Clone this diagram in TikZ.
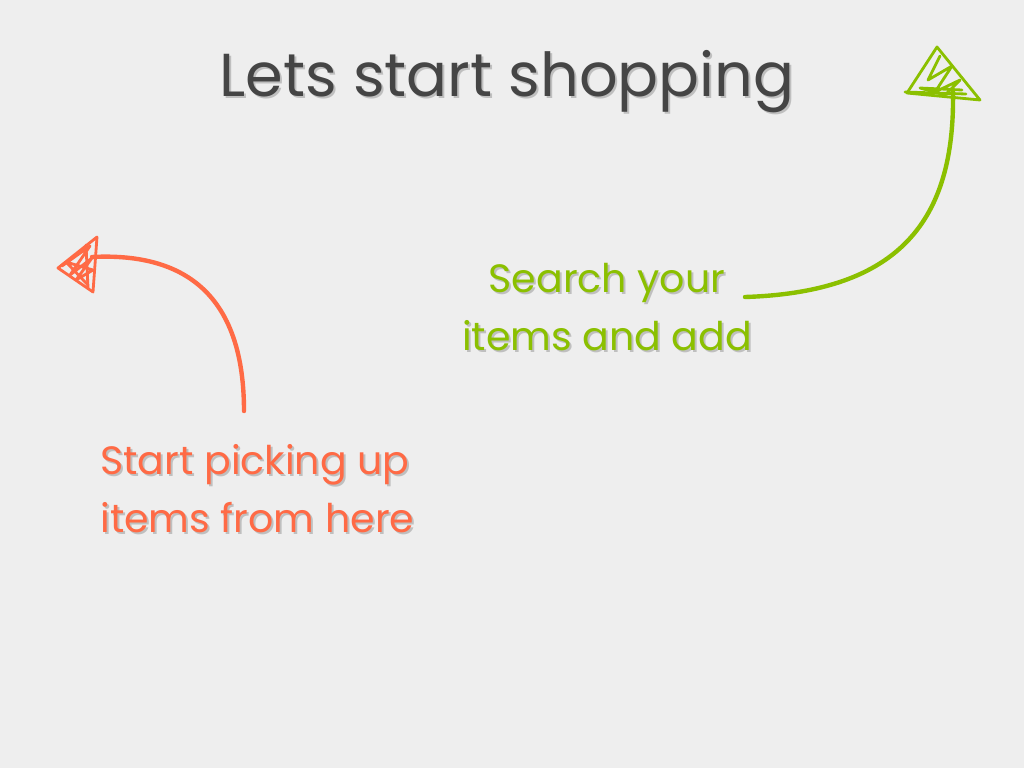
\documentclass[tikz,border=0pt]{standalone}
\usepackage{fontspec}
\setmainfont{Poppins}
\definecolor{bg}{HTML}{EEEEEE}
\definecolor{orng}{HTML}{FF6A45}
\definecolor{grn}{HTML}{8BC000}
\definecolor{ttl}{HTML}{454545}
\definecolor{shd}{HTML}{9A9A9A}
\begin{document}
\begin{tikzpicture}[x=0.02cm,y=-0.02cm,
  titletext/.style={font=\fontsize{34.5}{40}\selectfont, text=ttl, inner sep=0pt},
  labeltext/.style={font=\fontsize{22.5}{33}\selectfont, inner sep=0pt, align=left},
  shadowtext/.style={text=shd, opacity=0.55},
  curveline/.style={line width=2.5pt, line cap=round},
  headline/.style={line width=1.6pt, line cap=round, line join=round}]
\fill[bg] (0,0) rectangle (1024,768);
\useasboundingbox (0,0) rectangle (1024,768);
% title
\node[titletext, shadowtext] (titleshadow) at (509,84) {Lets start shopping};
\node[titletext] (title) at (507,82) {Lets start shopping};
% orange label
\node[labeltext, shadowtext, anchor=west] (oshadow) at (102,491) {Start picking up\\items from here};
\node[labeltext, text=orng, anchor=west] (olabel) at (100,489) {Start picking up\\items from here};
% green label
\node[labeltext, shadowtext, align=center] (gshadow) at (609,309) {Search your\\items and add};
\node[labeltext, text=grn, align=center] (glabel) at (607,307) {Search your\\items and add};
% orange arrow
\coordinate (ostart) at (244,411);
\coordinate (oend) at (92,257);
\coordinate (otip) at (58,268);
\draw[orng, curveline] (ostart) .. controls (244,300) and (190,252) .. (oend);
\draw[orng, headline] (otip) -- (97,237) -- (93,292) -- cycle;
\draw[orng, headline] (62,266) -- (90,246) -- (70,275) -- (92,258) -- (76,280) -- (93,270) -- (66,262) -- (88,285);
\draw[orng, headline] (86,245) -- (88,288);
% green arrow
\coordinate (gstart) at (745,297);
\coordinate (gend) at (953,92);
\coordinate (gtip) at (937,47);
\draw[grn, curveline] (gstart) .. controls (900,292) and (955,220) .. (gend);
\draw[grn, headline] (gtip) -- (907,93) -- (980,100) -- cycle;
\draw[grn, headline] (940,56) -- (928,80) -- (952,66) -- (935,92) -- (960,80) -- (945,95) -- (920,88) -- (962,90);
\draw[grn, headline] (905,92) -- (966,94);
\end{tikzpicture}
\end{document}
